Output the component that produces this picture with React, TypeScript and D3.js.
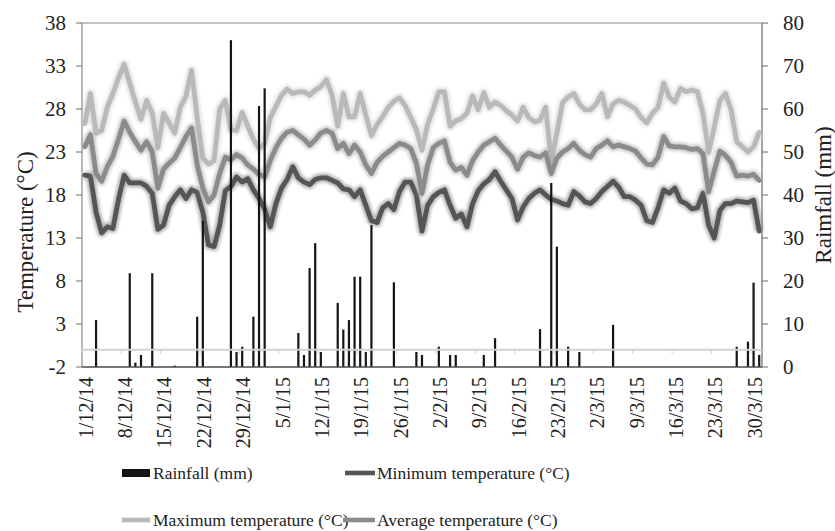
import React from "react";
import * as d3 from "d3";

// ---- data (daily 1/12/14 .. 31/3/15) ----
const maxTemp = [
  26.3, 29.8, 25.2, 25.5, 28.2, 29.8, 31.6, 33.2, 31.0, 28.8,
  26.8, 29.0, 27.5, 23.5, 27.5, 26.4, 25.2, 28.2, 29.5, 32.5,
  27.0, 22.3, 21.6, 22.0, 28.0, 29.0, 25.6, 25.5, 27.6, 26.0,
  24.5, 23.4, 24.0, 27.0, 28.3, 29.6, 30.3, 29.8, 30.0, 30.0,
  29.6, 30.2, 30.6, 31.4, 29.6, 26.0, 29.8, 27.1, 27.1, 29.8,
  27.3, 24.9, 26.2, 27.1, 28.2, 28.9, 29.3, 28.4, 27.0, 25.6,
  23.2, 26.2, 28.0, 30.0, 30.0, 26.0, 26.6, 26.9, 27.5, 29.5,
  27.9, 29.9, 28.2, 28.8, 28.4, 27.8, 27.3, 26.6, 28.2, 27.0,
  26.5, 26.7, 28.2, 22.0, 25.2, 28.7, 29.4, 29.8, 28.6, 27.9,
  27.9, 28.6, 29.8, 27.1, 28.6, 29.0, 28.8, 28.4, 28.0, 27.0,
  26.4, 27.5, 28.2, 31.0, 29.4, 28.8, 30.4, 30.0, 30.2, 30.0,
  27.5, 23.0, 25.9, 29.0, 29.8, 27.9, 24.2, 23.6, 23.0, 23.6,
  25.3,
];
const avgTemp = [
  23.6, 25.0, 20.5, 19.6, 21.3, 22.5, 24.5, 26.6, 25.3, 24.2,
  23.2, 24.2, 23.0, 18.8, 21.0, 21.7, 22.3, 23.5, 24.8, 25.8,
  21.5, 18.8, 17.2, 18.0, 20.5, 22.4, 22.1, 22.7, 22.3, 21.5,
  21.0, 20.4, 20.1, 22.0, 23.5, 24.6, 25.3, 25.5, 25.0, 24.5,
  23.8, 24.4, 25.2, 25.5, 25.2, 23.4, 24.0, 22.8, 23.8, 23.0,
  21.5, 20.5, 21.8, 22.5, 23.0, 23.5, 24.0, 23.8, 23.4, 21.7,
  18.2, 21.5, 23.5, 24.0, 24.3, 21.8, 20.9, 21.2, 20.3, 22.0,
  23.0, 23.8, 24.2, 24.6, 23.8, 23.1, 22.4, 21.0, 22.4, 22.9,
  22.6, 22.4, 22.9, 20.5, 22.3, 23.0, 23.4, 24.0, 23.2, 22.7,
  22.4, 23.4, 23.8, 24.3, 23.6, 23.8, 23.6, 23.4, 23.1, 22.3,
  21.6, 21.5, 22.4, 24.8, 23.7, 23.6, 23.6, 23.5, 23.3, 23.4,
  22.8, 18.4, 20.8, 23.1, 22.6, 21.8, 20.2, 20.3, 20.2, 20.4,
  19.7,
];
const minTemp = [
  20.3, 20.2, 16.0, 13.6, 14.3, 14.1, 17.5, 20.3, 19.4, 19.4,
  19.4, 19.0, 18.2, 14.0, 14.5, 16.8, 17.8, 18.6, 17.6, 18.6,
  18.3, 16.0, 12.2, 12.0, 14.5, 18.5, 19.0, 20.1, 19.5, 19.9,
  18.6, 17.6, 16.4, 14.3, 17.0, 18.8, 19.8, 21.3, 20.0, 19.5,
  19.2, 19.8, 20.0, 20.0, 19.7, 19.4, 18.7, 18.6, 17.8, 18.6,
  16.8, 15.0, 14.8, 16.5, 17.0, 16.3, 18.4, 19.5, 19.5, 18.0,
  13.8, 16.8, 17.8, 18.3, 18.6, 16.8, 15.3, 15.8, 14.3, 17.0,
  18.5, 19.3, 19.8, 20.7, 19.6, 18.6, 17.6, 15.1, 16.6, 17.6,
  18.2, 18.6, 18.0, 17.5, 17.3, 17.0, 16.8, 18.4, 17.9, 17.2,
  17.0, 17.6, 18.4, 19.0, 19.6, 18.9, 17.8, 17.8, 17.4, 16.8,
  15.0, 14.8, 16.5, 18.6, 18.2, 18.8, 17.3, 17.0, 16.4, 16.5,
  18.2, 14.5, 13.0, 16.2, 17.0, 17.0, 17.3, 17.2, 17.1, 17.4,
  13.8,
];
const rainfall = [
  0, 0, 10.9, 0, 0, 0, 0, 0, 21.8, 1.0,
  2.8, 0, 21.8, 0, 0, 0, 0.3, 0, 0, 0,
  11.7, 34.0, 0, 0, 0, 0, 76.0, 3.5, 4.7, 0,
  11.7, 60.7, 64.8, 0, 0, 0, 0, 0, 7.9, 2.8,
  23.0, 28.8, 3.5, 0, 0, 14.9, 8.7, 10.9, 21.0, 21.0,
  3.5, 33.0, 0, 0, 0, 19.7, 0, 0, 0, 3.5,
  2.8, 0, 0, 4.7, 0, 2.8, 2.8, 0, 0, 0,
  0, 2.8, 0, 6.7, 0, 0, 0, 0, 0, 0,
  0, 8.8, 0, 42.8, 28.0, 0, 4.7, 0, 3.5, 0,
  0, 0, 0, 0, 9.8, 0, 0, 0, 0, 0,
  0, 0, 0, 0, 0, 0, 0, 0, 0, 0,
  0, 0, 0, 0, 0, 0, 4.7, 0, 5.9, 19.6,
  2.8,
];
const xTickLabels = [
  "1/12/14", "8/12/14", "15/12/14", "22/12/14", "29/12/14", "5/1/15",
  "12/1/15", "19/1/15", "26/1/15", "2/2/15", "9/2/15", "16/2/15",
  "23/2/15", "2/3/15", "9/3/15", "16/3/15", "23/3/15", "30/3/15",
];
const tempTicks = [-2, 3, 8, 13, 18, 23, 28, 33, 38];
const rainTicks = [0, 10, 20, 30, 40, 50, 60, 70, 80];

const FONT = '"Liberation Serif", "Times New Roman", Times, serif';
const W = 835;
const H = 531;
const L = 82, R = 762, T = 23, B = 367;

const series = [
  { name: "Minimum temperature (°C)", data: minTemp, color: "#555555", glow: "#7a7a7a" },
  { name: "Maximum temperature (°C)", data: maxTemp, color: "#b9b9b9", glow: "#cdcdcd" },
  { name: "Average temperature (°C)", data: avgTemp, color: "#8b8b8b", glow: "#a6a6a6" },
];

export default function App() {
  const idx = d3.range(rainfall.length);
  const x = d3.scaleBand<number>().domain(idx).range([L, R]).padding(0);
  const cx = (i: number) => (x(i) as number) + x.bandwidth() / 2;
  const yT = d3.scaleLinear().domain([-2, 38]).range([B, T]);
  const yR = d3.scaleLinear().domain([0, 80]).range([B, T]);
  const line = d3
    .line<number>()
    .x((_, i) => cx(i))
    .y((d) => yT(d));
  const y0 = yT(0);
  const legendLine = (x1: number, x2: number, y: number, s: any) => (
    <g>
      <line x1={x1} x2={x2} y1={y} y2={y} stroke={s.glow} strokeWidth={8} opacity={0.6} filter="url(#glow)" />
      <line x1={x1} x2={x2} y1={y} y2={y} stroke={s.color} strokeWidth={4.6} />
    </g>
  );

  return (
    <svg
      width={W}
      height={H}
      style={{ position: "absolute", left: 0, top: 0, background: "#fff", fontFamily: FONT }}
    >
      <defs>
        <filter id="glow" x="-10%" y="-30%" width="120%" height="160%">
          <feGaussianBlur stdDeviation="1.7" />
        </filter>
        <filter id="soft" x="-50%" y="-5%" width="200%" height="110%">
          <feGaussianBlur stdDeviation="0.35" />
        </filter>
      </defs>
      <rect width={W} height={H} fill="#fff" />

      {/* frame */}
      <line x1={L} x2={R} y1={T} y2={T} stroke="#8a8a8a" strokeWidth={1.2} />
      <line x1={L} x2={L} y1={T} y2={B} stroke="#8a8a8a" strokeWidth={1.2} />
      <line x1={R} x2={R} y1={T} y2={B} stroke="#6a6a6a" strokeWidth={1.2} />

      {/* temperature lines */}
      {series.map((s) => (
        <g key={s.name}>
          <path d={line(s.data) as string} fill="none" stroke={s.glow} strokeWidth={9} opacity={0.55} filter="url(#glow)" strokeLinejoin="round" />
          <path d={line(s.data) as string} fill="none" stroke={s.color} strokeWidth={4.8} strokeLinejoin="round" strokeLinecap="round" />
        </g>
      ))}

      {/* rainfall bars */}
      <g filter="url(#soft)">
        {rainfall.map((v, i) =>
          v > 0 ? (
            <rect key={i} x={cx(i) - 1.1} width={2.2} y={yR(v)} height={B - yR(v)} fill="#141414" />
          ) : null
        )}
      </g>

      {/* zero line of temperature axis */}
      <line x1={L} x2={R} y1={y0} y2={y0} stroke="#d2d2d2" strokeWidth={2} />
      {xTickLabels.map((_, k) => (
        <line key={k} x1={x(k * 7) as number} x2={x(k * 7) as number} y1={y0} y2={y0 + 4} stroke="#cfcfcf" strokeWidth={1} />
      ))}

      {/* bottom axis */}
      <line x1={L} x2={R} y1={B} y2={B} stroke="#4a4a4a" strokeWidth={1.6} />

      {/* left axis */}
      {tempTicks.map((t) => (
        <g key={t}>
          <line x1={L - 6} x2={L} y1={yT(t)} y2={yT(t)} stroke="#6a6a6a" />
          <text x={66} y={yT(t)} dy="0.35em" textAnchor="end" fontSize={21} fill="#222">
            {t}
          </text>
        </g>
      ))}
      {/* right axis */}
      {rainTicks.map((t) => (
        <g key={t}>
          <line x1={R} x2={R + 6} y1={yR(t)} y2={yR(t)} stroke="#6a6a6a" />
          <text x={783} y={yR(t)} dy="0.35em" textAnchor="start" fontSize={21} fill="#222">
            {t}
          </text>
        </g>
      ))}

      {/* x labels */}
      {xTickLabels.map((lab, k) => (
        <text
          key={lab}
          transform={`translate(${cx(k * 7) + 1},377) rotate(-90)`}
          textAnchor="end"
          dy="0.35em"
          fontSize={20}
          fill="#222"
        >
          {lab}
        </text>
      ))}

      {/* axis titles */}
      <text transform="translate(25,232) rotate(-90)" textAnchor="middle" dy="0.35em" fontSize={23} fill="#222">
        Temperature (°C)
      </text>
      <text transform="translate(823,195) rotate(-90)" textAnchor="middle" dy="0.35em" fontSize={23} fill="#222">
        Raimfall (mm)
      </text>

      {/* legend */}
      <rect x={122} y={469} width={28} height={8} fill="#141414" />
      <text x={153} y={473} dy="0.35em" fontSize={17.5} fill="#222">Rainfall (mm)</text>
      {legendLine(345, 375, 473, series[0])}
      <text x={377} y={473} dy="0.35em" fontSize={17.5} fill="#222">{series[0].name}</text>
      {legendLine(122, 150, 520, series[1])}
      <text x={153} y={520} dy="0.35em" fontSize={17.5} fill="#222">{series[1].name}</text>
      {legendLine(343, 375, 520, series[2])}
      <text x={377} y={520} dy="0.35em" fontSize={17.5} fill="#222">{series[2].name}</text>
    </svg>
  );
}
